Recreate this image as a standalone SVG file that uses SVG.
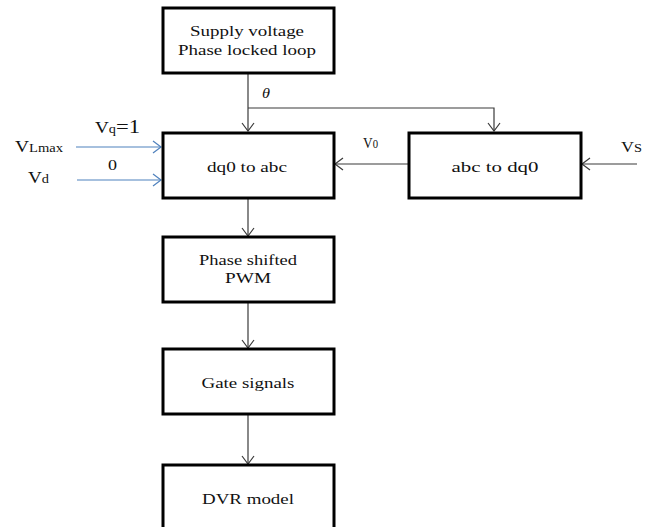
<svg xmlns="http://www.w3.org/2000/svg" width="654" height="527" viewBox="0 0 654 527">
<style>
.box{fill:#fff;stroke:#000;stroke-width:3}
.t{font-family:"Liberation Serif","Times New Roman",serif;font-size:14px;fill:#111;text-anchor:middle}
.l{font-family:"Liberation Serif","Times New Roman",serif;fill:#111}
.c{fill:none;stroke:#3a3a3a;stroke-width:1.2}
.b{fill:none;stroke:#4f81bd;stroke-width:1.2}
</style>
<defs>
<marker id="ah" markerUnits="userSpaceOnUse" markerWidth="12" markerHeight="14" refX="9" refY="7" orient="auto">
<path d="M1,1 L9,7 L1,13" fill="none" stroke="#3a3a3a" stroke-width="1.2"/>
</marker>
<marker id="ahb" markerUnits="userSpaceOnUse" markerWidth="12" markerHeight="14" refX="9" refY="7" orient="auto">
<path d="M1,1 L9,7 L1,13" fill="none" stroke="#4f81bd" stroke-width="1.2"/>
</marker>
</defs>
<g id="connectors">
<path class="c" d="M248,73 V131" marker-end="url(#ah)"/>
<path class="c" d="M248,108 H494 V131" marker-end="url(#ah)"/>
<path class="c" d="M248,198 V236" marker-end="url(#ah)"/>
<path class="c" d="M248,302 V348" marker-end="url(#ah)"/>
<path class="c" d="M248,414 V464" marker-end="url(#ah)"/>
<path class="c" d="M408,164 H335" marker-end="url(#ah)"/>
<path class="c" d="M637,164 H582" marker-end="url(#ah)"/>
<path class="b" d="M76,147 H161" marker-end="url(#ahb)"/>
<path class="b" d="M77,180 H161" marker-end="url(#ahb)"/>
</g>
<g id="pll">
<rect class="box" x="163" y="8" width="171" height="65"/>
<text class="t" x="247" y="36" textLength="114" lengthAdjust="spacingAndGlyphs">Supply voltage</text>
<text class="t" x="247" y="55" textLength="138" lengthAdjust="spacingAndGlyphs">Phase locked loop</text>
</g>
<g id="dq0abc">
<rect class="box" x="163" y="133" width="171" height="65"/>
<text class="t" x="247" y="172" textLength="80" lengthAdjust="spacingAndGlyphs">dq0 to abc</text>
</g>
<g id="abcdq0">
<rect class="box" x="409" y="133" width="172" height="65"/>
<text class="t" x="495" y="172" textLength="87" lengthAdjust="spacingAndGlyphs">abc to dq0</text>
</g>
<g id="pwm">
<rect class="box" x="163" y="237" width="171" height="65"/>
<text class="t" x="248" y="265" textLength="98" lengthAdjust="spacingAndGlyphs">Phase shifted</text>
<text class="t" x="248" y="283" textLength="46" lengthAdjust="spacingAndGlyphs">PWM</text>
</g>
<g id="gate">
<rect class="box" x="163" y="349" width="171" height="65"/>
<text class="t" x="248" y="388" textLength="93" lengthAdjust="spacingAndGlyphs">Gate signals</text>
</g>
<g id="dvr">
<rect class="box" x="163" y="465" width="171" height="80"/>
<text class="t" x="248" y="504" textLength="92" lengthAdjust="spacingAndGlyphs">DVR model</text>
</g>
<g id="labels">
<text class="l" x="15" y="152" textLength="48" lengthAdjust="spacingAndGlyphs"><tspan font-size="16">V</tspan><tspan font-size="12">Lmax</tspan></text>
<text class="l" x="28" y="183" textLength="21" lengthAdjust="spacingAndGlyphs"><tspan font-size="16">V</tspan><tspan font-size="12">d</tspan></text>
<text class="l" x="95" y="133" textLength="45" lengthAdjust="spacingAndGlyphs"><tspan font-size="16">V</tspan><tspan font-size="12">q</tspan><tspan font-size="19">=1</tspan></text>
<text class="l" x="108" y="170" font-size="15" textLength="9" lengthAdjust="spacingAndGlyphs">0</text>
<text class="l" x="363" y="148" textLength="15" lengthAdjust="spacingAndGlyphs"><tspan font-size="15">V</tspan><tspan font-size="12">0</tspan></text>
<text class="l" x="621" y="152" textLength="21" lengthAdjust="spacingAndGlyphs"><tspan font-size="15">V</tspan><tspan font-size="12">S</tspan></text>
<text class="l" x="262" y="98" font-size="15" font-style="italic" textLength="8" lengthAdjust="spacingAndGlyphs">θ</text>
</g>
</svg>
